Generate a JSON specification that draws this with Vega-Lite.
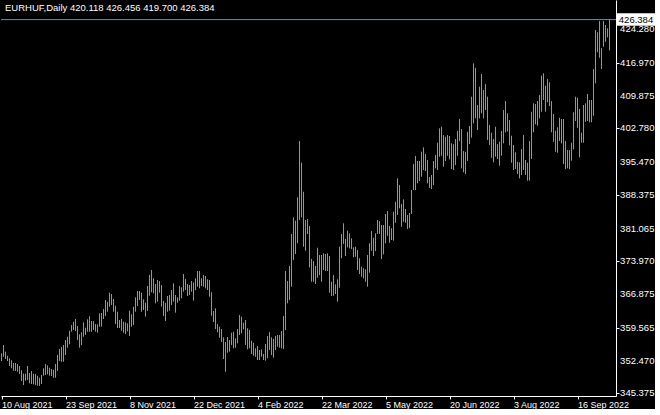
{
  "$schema": "https://vega.github.io/schema/vega-lite/v6.json",
  "width": 615,
  "height": 396,
  "padding": 0,
  "autosize": {"type": "pad"},
  "background": "#000000",
  "config": {
    "view": {"stroke": null},
    "axis": {"labelOverlap": false, "labelFlush": false, "grid": false}
  },
  "datasets": {
    "bars": [
      {"i":0,"high":354.04,"low":352.37},{"i":1,"high":355.84,"low":353.31},{"i":2,"high":354.39,"low":352.81},{"i":3,"high":353.52,"low":352.37},{"i":4,"high":352.96,"low":351.29},{"i":5,"high":352.53,"low":350.79},{"i":6,"high":351.94,"low":350.27},{"i":7,"high":351.94,"low":350.21},{"i":8,"high":351.72,"low":350.06},{"i":9,"high":351.29,"low":349.56},
      {"i":10,"high":350.36,"low":348.04},{"i":11,"high":349.62,"low":347.17},{"i":12,"high":349.62,"low":348.10},{"i":13,"high":351.29,"low":348.26},{"i":14,"high":349.77,"low":347.54},{"i":15,"high":350.21,"low":347.39},{"i":16,"high":349.62,"low":347.32},{"i":17,"high":349.56,"low":347.17},{"i":18,"high":349.19,"low":347.02},{"i":19,"high":348.75,"low":346.96},
      {"i":20,"high":349.34,"low":347.39},{"i":21,"high":350.79,"low":349.19},{"i":22,"high":351.72,"low":349.34},{"i":23,"high":351.44,"low":349.49},{"i":24,"high":350.92,"low":349.19},{"i":25,"high":350.64,"low":349.12},{"i":26,"high":350.49,"low":348.75},{"i":27,"high":351.72,"low":348.75},{"i":28,"high":353.67,"low":350.21},{"i":29,"high":354.98,"low":352.37},
      {"i":30,"high":355.41,"low":352.22},{"i":31,"high":355.84,"low":352.22},{"i":32,"high":356.93,"low":353.67},{"i":33,"high":357.64,"low":355.26},{"i":34,"high":358.94,"low":356.00},{"i":35,"high":360.18,"low":358.73},{"i":36,"high":360.89,"low":359.09},{"i":37,"high":361.48,"low":358.88},{"i":38,"high":359.96,"low":356.93},{"i":39,"high":358.16,"low":355.26},
      {"i":40,"high":358.60,"low":355.84},{"i":41,"high":360.76,"low":357.64},{"i":42,"high":359.59,"low":358.01},{"i":43,"high":361.41,"low":358.73},{"i":44,"high":362.06,"low":358.73},{"i":45,"high":361.05,"low":358.73},{"i":46,"high":361.05,"low":359.09},{"i":47,"high":360.39,"low":358.73},{"i":48,"high":360.33,"low":358.51},{"i":49,"high":362.71,"low":359.81},
      {"i":50,"high":362.78,"low":359.81},{"i":51,"high":363.65,"low":361.48},{"i":52,"high":365.60,"low":362.13},{"i":53,"high":365.23,"low":363.06},{"i":54,"high":367.18,"low":364.14},{"i":55,"high":366.90,"low":364.51},{"i":56,"high":365.81,"low":363.06},{"i":57,"high":364.36,"low":360.39},{"i":58,"high":363.06,"low":359.53},{"i":59,"high":361.26,"low":359.53},
      {"i":60,"high":361.48,"low":358.94},{"i":61,"high":360.89,"low":358.51},{"i":62,"high":360.76,"low":358.23},{"i":63,"high":360.55,"low":358.81},{"i":64,"high":363.28,"low":357.79},{"i":65,"high":362.50,"low":359.81},{"i":66,"high":364.14,"low":360.18},{"i":67,"high":366.18,"low":363.06},{"i":68,"high":367.55,"low":364.30},{"i":69,"high":367.55,"low":365.60},
      {"i":70,"high":367.18,"low":363.06},{"i":71,"high":365.75,"low":363.43},{"i":72,"high":365.01,"low":361.98},{"i":73,"high":368.63,"low":363.21},{"i":74,"high":371.02,"low":366.53},{"i":75,"high":372.10,"low":367.27},{"i":76,"high":370.30,"low":367.05},{"i":77,"high":369.06,"low":364.88},{"i":78,"high":369.93,"low":365.23},{"i":79,"high":369.71,"low":367.18},
      {"i":80,"high":368.85,"low":364.14},{"i":81,"high":365.38,"low":362.13},{"i":82,"high":365.01,"low":361.05},{"i":83,"high":366.46,"low":363.06},{"i":84,"high":366.68,"low":363.28},{"i":85,"high":367.76,"low":364.51},{"i":86,"high":369.22,"low":365.23},{"i":87,"high":366.68,"low":362.85},{"i":88,"high":366.18,"low":365.01},{"i":89,"high":368.63,"low":365.45},
      {"i":90,"high":368.35,"low":365.96},{"i":91,"high":371.23,"low":367.40},{"i":92,"high":370.15,"low":367.76},{"i":93,"high":369.06,"low":366.46},{"i":94,"high":368.85,"low":366.68},{"i":95,"high":369.71,"low":367.40},{"i":96,"high":369.43,"low":365.45},{"i":97,"high":370.30,"low":367.76},{"i":98,"high":371.88,"low":368.48},{"i":99,"high":371.88,"low":368.13},
      {"i":100,"high":370.30,"low":368.63},{"i":101,"high":371.02,"low":368.48},{"i":102,"high":370.80,"low":368.13},{"i":103,"high":370.08,"low":367.76},{"i":104,"high":369.93,"low":366.31},{"i":105,"high":367.27,"low":362.20},{"i":106,"high":363.21,"low":360.83},{"i":107,"high":363.80,"low":359.31},{"i":108,"high":360.39,"low":358.60},{"i":109,"high":359.81,"low":357.43},
      {"i":110,"high":359.31,"low":356.49},{"i":111,"high":357.51,"low":352.81},{"i":112,"high":356.49,"low":350.06},{"i":113,"high":357.58,"low":354.17},{"i":114,"high":356.93,"low":354.39},{"i":115,"high":358.51,"low":355.84},{"i":116,"high":358.73,"low":355.13},{"i":117,"high":357.29,"low":355.26},{"i":118,"high":359.31,"low":356.21},{"i":119,"high":362.35,"low":358.01},
      {"i":120,"high":361.98,"low":358.38},{"i":121,"high":360.67,"low":359.25},{"i":122,"high":361.26,"low":355.84},{"i":123,"high":359.46,"low":354.91},{"i":124,"high":359.09,"low":355.13},{"i":125,"high":356.77,"low":353.89},{"i":126,"high":356.34,"low":353.52},{"i":127,"high":355.13,"low":353.31},{"i":128,"high":355.63,"low":352.59},{"i":129,"high":354.76,"low":352.59},
      {"i":130,"high":354.91,"low":353.31},{"i":131,"high":353.89,"low":352.59},{"i":132,"high":356.06,"low":352.44},{"i":133,"high":357.79,"low":352.96},{"i":134,"high":358.66,"low":354.76},{"i":135,"high":357.51,"low":353.67},{"i":136,"high":357.14,"low":353.09},{"i":137,"high":357.79,"low":354.76},{"i":138,"high":358.01,"low":355.47},{"i":139,"high":358.01,"low":355.26},
      {"i":140,"high":358.88,"low":355.13},{"i":141,"high":362.13,"low":354.98},{"i":142,"high":371.88,"low":359.09},{"i":143,"high":369.71,"low":364.88},{"i":144,"high":372.97,"low":365.60},{"i":145,"high":379.90,"low":368.48},{"i":146,"high":383.52,"low":374.27},{"i":147,"high":382.79,"low":375.57},{"i":148,"high":387.86,"low":377.89},{"i":149,"high":400.06,"low":382.94},
      {"i":150,"high":395.36,"low":383.52},{"i":151,"high":389.07,"low":377.15},{"i":152,"high":382.94,"low":376.28},{"i":153,"high":383.15,"low":379.90},{"i":154,"high":381.64,"low":372.64},{"i":155,"high":374.49,"low":369.56},{"i":156,"high":374.05,"low":369.56},{"i":157,"high":372.97,"low":369.06},{"i":158,"high":376.93,"low":370.43},{"i":159,"high":375.35,"low":371.02},
      {"i":160,"high":375.35,"low":369.56},{"i":161,"high":375.72,"low":372.10},{"i":162,"high":375.57,"low":371.88},{"i":163,"high":375.72,"low":371.88},{"i":164,"high":375.13,"low":367.18},{"i":165,"high":369.56,"low":366.46},{"i":166,"high":371.02,"low":366.53},{"i":167,"high":369.00,"low":366.90},{"i":168,"high":370.08,"low":365.23},{"i":169,"high":377.15,"low":368.26},
      {"i":170,"high":379.90,"low":374.64},{"i":171,"high":382.22,"low":377.74},{"i":172,"high":378.82,"low":375.13},{"i":173,"high":380.62,"low":377.02},{"i":174,"high":380.06,"low":376.80},{"i":175,"high":378.97,"low":376.65},{"i":176,"high":377.02,"low":374.85},{"i":177,"high":377.15,"low":374.98},{"i":178,"high":376.43,"low":372.10},{"i":179,"high":374.64,"low":371.23},
      {"i":180,"high":372.81,"low":370.65},{"i":181,"high":372.47,"low":370.30},{"i":182,"high":372.25,"low":369.56},{"i":183,"high":375.35,"low":368.48},{"i":184,"high":377.89,"low":371.51},{"i":185,"high":380.55,"low":376.28},{"i":186,"high":379.10,"low":375.13},{"i":187,"high":380.06,"low":376.22},{"i":188,"high":382.94,"low":379.90},{"i":189,"high":382.72,"low":379.90},
      {"i":190,"high":381.85,"low":374.49},{"i":191,"high":381.85,"low":375.50},{"i":192,"high":384.24,"low":377.89},{"i":193,"high":384.89,"low":379.53},{"i":194,"high":381.64,"low":378.02},{"i":195,"high":381.14,"low":378.60},{"i":196,"high":384.74,"low":378.45},{"i":197,"high":386.90,"low":382.35},{"i":198,"high":391.98,"low":384.02},{"i":199,"high":390.52,"low":385.47},
      {"i":200,"high":386.41,"low":381.49},{"i":201,"high":387.42,"low":382.57},{"i":202,"high":385.32,"low":382.35},{"i":203,"high":384.02,"low":380.99},{"i":204,"high":384.46,"low":381.20},{"i":205,"high":389.44,"low":384.24},{"i":206,"high":395.07,"low":389.44},{"i":207,"high":396.81,"low":389.44},{"i":208,"high":395.73,"low":390.89},{"i":209,"high":395.73,"low":391.39},
      {"i":210,"high":397.74,"low":392.32},{"i":211,"high":398.70,"low":393.78},{"i":212,"high":397.24,"low":393.56},{"i":213,"high":395.94,"low":390.89},{"i":214,"high":392.26,"low":389.87},{"i":215,"high":392.69,"low":389.66},{"i":216,"high":395.73,"low":390.52},{"i":217,"high":397.03,"low":394.14},{"i":218,"high":399.69,"low":393.78},{"i":219,"high":402.81,"low":396.66},
      {"i":220,"high":403.16,"low":396.87},{"i":221,"high":401.36,"low":394.49},{"i":222,"high":400.99,"low":395.73},{"i":223,"high":401.36,"low":396.87},{"i":224,"high":401.15,"low":396.09},{"i":225,"high":399.56,"low":393.99},{"i":226,"high":399.35,"low":393.78},{"i":227,"high":400.49,"low":394.86},{"i":228,"high":402.23,"low":396.87},{"i":229,"high":404.83,"low":400.06},
      {"i":230,"high":402.66,"low":394.14},{"i":231,"high":397.89,"low":393.28},{"i":232,"high":397.74,"low":392.91},{"i":233,"high":402.08,"low":395.73},{"i":234,"high":403.31,"low":399.41},{"i":235,"high":409.66,"low":400.78},{"i":236,"high":416.90,"low":403.90},{"i":237,"high":415.95,"low":404.98},{"i":238,"high":407.87,"low":402.45},{"i":239,"high":411.83,"low":404.98},
      {"i":240,"high":414.58,"low":406.07},{"i":241,"high":411.12,"low":404.98},{"i":242,"high":412.42,"low":406.78},{"i":243,"high":409.66,"low":400.28},{"i":244,"high":403.53,"low":399.20},{"i":245,"high":401.86,"low":396.44},{"i":246,"high":400.49,"low":395.44},{"i":247,"high":403.16,"low":396.66},{"i":248,"high":399.35,"low":396.16},{"i":249,"high":399.91,"low":394.71},
      {"i":250,"high":402.23,"low":396.87},{"i":251,"high":406.78,"low":399.56},{"i":252,"high":408.73,"low":401.95},{"i":253,"high":406.07,"low":402.12},{"i":254,"high":404.61,"low":399.13},{"i":255,"high":401.21,"low":395.36},{"i":256,"high":399.20,"low":393.78},{"i":257,"high":397.61,"low":393.99},{"i":258,"high":395.57,"low":392.91},{"i":259,"high":395.44,"low":391.98},
      {"i":260,"high":398.33,"low":392.69},{"i":261,"high":401.36,"low":393.78},{"i":262,"high":395.94,"low":392.69},{"i":263,"high":395.36,"low":391.46},{"i":264,"high":400.06,"low":391.46},{"i":265,"high":406.41,"low":396.16},{"i":266,"high":408.23,"low":401.95},{"i":267,"high":408.08,"low":403.68},{"i":268,"high":408.73,"low":403.38},{"i":269,"high":410.03,"low":404.98},
      {"i":270,"high":414.22,"low":406.41},{"i":271,"high":414.74,"low":408.95},{"i":272,"high":412.05,"low":406.41},{"i":273,"high":413.50,"low":408.45},{"i":274,"high":412.79,"low":407.65},{"i":275,"high":408.73,"low":401.95},{"i":276,"high":405.91,"low":399.91},{"i":277,"high":402.29,"low":397.74},{"i":278,"high":403.03,"low":397.53},{"i":279,"high":405.11,"low":400.06},
      {"i":280,"high":404.83,"low":399.56},{"i":281,"high":404.83,"low":395.07},{"i":282,"high":400.06,"low":393.99},{"i":283,"high":398.11,"low":394.14},{"i":284,"high":398.11,"low":393.99},{"i":285,"high":399.69,"low":395.79},{"i":286,"high":406.28,"low":398.26},{"i":287,"high":409.66,"low":404.40},{"i":288,"high":409.45,"low":402.94},{"i":289,"high":407.00,"low":396.53},
      {"i":290,"high":401.86,"low":399.69},{"i":291,"high":407.87,"low":399.69},{"i":292,"high":408.23,"low":404.25},{"i":293,"high":410.25,"low":404.40},{"i":294,"high":408.95,"low":404.12},{"i":295,"high":408.95,"low":404.12},{"i":296,"high":415.67,"low":405.55},{"i":297,"high":424.12,"low":412.57},{"i":298,"high":423.62,"low":419.29},{"i":299,"high":426.07,"low":418.12},
      {"i":300,"high":420.16,"low":415.67},{"i":301,"high":426.07,"low":420.50},{"i":302,"high":425.21,"low":421.59},{"i":303,"high":424.49,"low":422.54},{"i":304,"high":426.456,"low":419.700}
    ],
    "ticks": [
      {"price": 345.375}, {"price": 352.470}, {"price": 359.565}, {"price": 366.875}, {"price": 373.970}, {"price": 381.065},
      {"price": 388.375}, {"price": 395.470}, {"price": 402.780}, {"price": 409.875}, {"price": 416.970}, {"price": 424.280}
    ],
    "last": [{"symbol": "EURHUF,Daily", "open": 420.118, "high": 426.456, "low": 419.700, "close": 426.384}]
  },
  "layer": [
    {
      "data": {"name": "bars"},
      "mark": {"type": "rule", "stroke": "#00FF00", "strokeWidth": 1, "opacity": 1},
      "encoding": {
        "x": {
          "field": "i", "type": "quantitative", "title": null,
          "scale": {"domain": [-0.25, 307.25], "zero": false, "nice": false},
          "axis": {
            "orient": "bottom", "values": [0, 32, 64, 96, 128, 160, 192, 224, 256, 288],
            "labelExpr": "['10 Aug 2021','23 Sep 2021','8 Nov 2021','22 Dec 2021','4 Feb 2022','22 Mar 2022','5 May 2022','20 Jun 2022','3 Aug 2022','16 Sep 2022'][round(datum.value/32)]",
            "labelAlign": "left", "labelBaseline": "top", "labelPadding": 1, "labelDx": 1,
            "labelFlush": false, "labelOverlap": false,
            "labelFont": "Liberation Sans", "labelFontSize": 9, "labelColor": "#FFFFFF",
            "tickSize": 3, "tickColor": "#FFFFFF", "domainColor": "#FFFFFF", "grid": false
          }
        },
        "y": {
          "field": "high", "type": "quantitative", "title": null,
          "scale": {"domain": [344.79, 430.63], "zero": false, "nice": false},
          "axis": {
            "orient": "right",
            "values": [345.375, 352.47, 359.565, 366.875, 373.97, 381.065, 388.375, 395.47, 402.78, 409.875, 416.97, 424.28],
            "labels": false,
            "tickSize": 3, "tickColor": "#FFFFFF", "domainColor": "#FFFFFF", "grid": false
          }
        },
        "y2": {"field": "low"}
      }
    },
    {
      "data": {"name": "ticks"},
      "mark": {"type": "text", "fill": "#FFFFFF", "font": "Liberation Sans", "fontSize": 9.5, "align": "left", "baseline": "middle"},
      "encoding": {
        "x": {"datum": 309.3, "type": "quantitative", "title": null},
        "y": {"field": "price", "type": "quantitative", "title": null},
        "text": {"field": "price", "type": "quantitative", "format": ".3f"}
      }
    },
    {
      "data": {"name": "last"},
      "mark": {"type": "rule", "stroke": "#778899", "strokeWidth": 1},
      "encoding": {
        "y": {"field": "close", "type": "quantitative", "title": null}
      }
    },
    {
      "data": {"name": "last"},
      "mark": {"type": "point", "shape": "M-1,-0.33L1,-0.33L1,0.33L-1,0.33Z", "size": 1444, "filled": true, "fill": "#FFFFFF", "opacity": 1, "strokeWidth": 0},
      "encoding": {
        "x": {"datum": 317.25, "type": "quantitative", "title": null},
        "y": {"field": "close", "type": "quantitative", "title": null}
      }
    },
    {
      "data": {"name": "last"},
      "mark": {"type": "text", "fill": "#000000", "font": "Liberation Sans", "fontSize": 9.5, "align": "center", "baseline": "middle"},
      "encoding": {
        "x": {"datum": 317.25, "type": "quantitative", "title": null},
        "y": {"field": "close", "type": "quantitative", "title": null},
        "text": {"field": "close", "type": "quantitative", "format": ".3f"}
      }
    },
    {
      "data": {"name": "last"},
      "mark": {"type": "text", "fill": "#FFFFFF", "font": "Liberation Sans", "fontSize": 9.5, "align": "left", "baseline": "alphabetic"},
      "encoding": {
        "x": {"datum": 1.75, "type": "quantitative", "title": null},
        "y": {"datum": 428.25, "type": "quantitative", "title": null},
        "text": {"value": "EURHUF,Daily  420.118 426.456 419.700 426.384"}
      }
    }
  ]
}
